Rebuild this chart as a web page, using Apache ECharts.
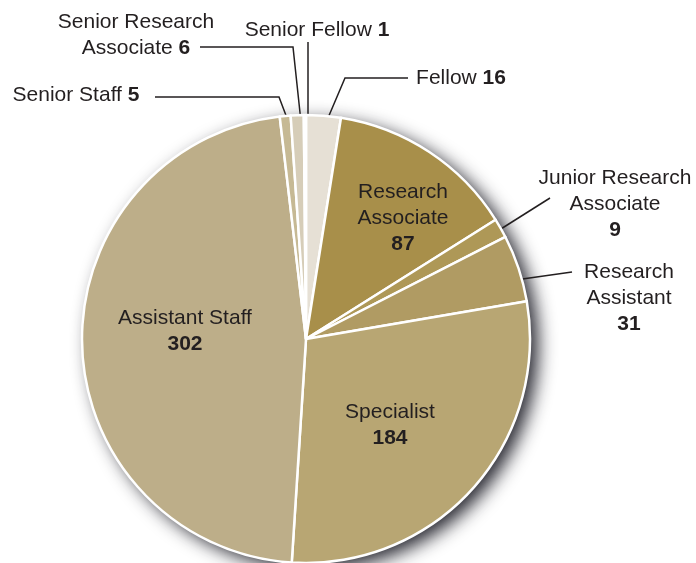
<!DOCTYPE html>
<html>
<head>
<meta charset="utf-8">
<script src="https://cdn.jsdelivr.net/npm/echarts@6/dist/echarts.min.js"></script>
<style>
html,body{margin:0;padding:0;background:#fff;}
#chart{width:696px;height:563px;}
</style>
</head>
<body>
<div id="chart"></div>
<script>
// ---- data ----
var categories = ['Fellow', 'Research Associate', 'Junior Research Associate', 'Research Assistant',
                  'Specialist', 'Assistant Staff', 'Senior Staff', 'Senior Research Associate', 'Senior Fellow'];
var labelTexts = ['Fellow', 'Research\nAssociate', 'Junior Research\nAssociate', 'Research\nAssistant',
                  'Specialist', 'Assistant Staff', 'Senior Staff', 'Senior Research\nAssociate', 'Senior Fellow'];
var values = [16, 87, 9, 31, 184, 302, 5, 6, 1];
var valueOnNewLine = [false, true, true, true, true, true, false, false, false];

// ---- styles ----
var colors = ['#e6e0d5', '#a88f4a', '#ae9857', '#b09b63', '#b8a673', '#bdae89', '#c6b994', '#d6cdb8', '#e9e4db'];
var CX = 306, CY = 339, R = 224;
// label placement (offsets from pie centre) and leader lines
var layoutMap = {
  'Fellow': {x: 155, y: -261, line: [[102, -261], [39, -261], [19, -214]]},
  'Research Associate': {x: 97, y: -121},
  'Junior Research Associate': {x: 309, y: -135, line: [[244, -141], [179, -100]]},
  'Research Assistant': {x: 323, y: -41, line: [[266, -67], [188, -56]]},
  'Specialist': {x: 84, y: 86},
  'Assistant Staff': {x: -121, y: -8},
  'Senior Staff': {x: -230, y: -244, line: [[-151, -242], [-27, -242], [-16, -213]]},
  'Senior Research Associate': {x: -170, y: -304, line: [[-106, -292], [-13, -292], [-5, -217]]},
  'Senior Fellow': {x: 11, y: -309, line: [[2, -297], [2, -211]]}
};
var insideNames = ['Research Associate', 'Specialist', 'Assistant Staff'];

var data = categories.map(function (c, i) {
  var inside = insideNames.indexOf(c) >= 0;
  return {
    name: c,
    value: values[i],
    itemStyle: {color: colors[i]},
    label: {
      formatter: labelTexts[i] + (valueOnNewLine[i] ? '\n' : ' ') + '{v|' + values[i] + '}'
    },
    labelLine: {show: !inside}
  };
});

var chart = echarts.init(document.getElementById('chart'));
chart.setOption({
  animation: false,
  backgroundColor: '#ffffff',
  series: [
    {
      type: 'pie',
      silent: true,
      center: [CX, CY],
      radius: R,
      label: {show: false},
      labelLine: {show: false},
      itemStyle: {
        color: '#ffffff',
        shadowBlur: 18,
        shadowOffsetX: 8,
        shadowOffsetY: 6,
        shadowColor: 'rgba(15,15,25,0.9)'
      },
      data: [{value: 1, name: 'bg'}],
      z: 1
    },
    {
      type: 'pie',
      center: [CX, CY],
      radius: R,
      startAngle: 90,
      clockwise: true,
      avoidLabelOverlap: false,
      z: 2,
      itemStyle: {borderColor: '#ffffff', borderWidth: 2.5},
      label: {
        show: true,
        position: 'outside',
        color: '#231f20',
        fontFamily: 'Liberation Sans, Arial, sans-serif',
        fontSize: 21,
        lineHeight: 26,
        align: 'center',
        rich: {
          v: {
            fontWeight: 'bold',
            fontSize: 21,
            lineHeight: 26,
            color: '#231f20',
            fontFamily: 'Liberation Sans, Arial, sans-serif'
          }
        }
      },
      labelLine: {show: true, lineStyle: {color: '#231f20', width: 1.5}, length: 10, length2: 10},
      labelLayout: function (params) {
        var name = categories[params.dataIndex];
        var L = layoutMap[name];
        var out = {x: CX + L.x, y: CY + L.y, align: 'center', verticalAlign: 'middle'};
        if (L.line) {
          out.labelLinePoints = L.line.map(function (p) { return [CX + p[0], CY + p[1]]; });
        }
        return out;
      },
      data: data
    }
  ]
});
</script>
</body>
</html>
